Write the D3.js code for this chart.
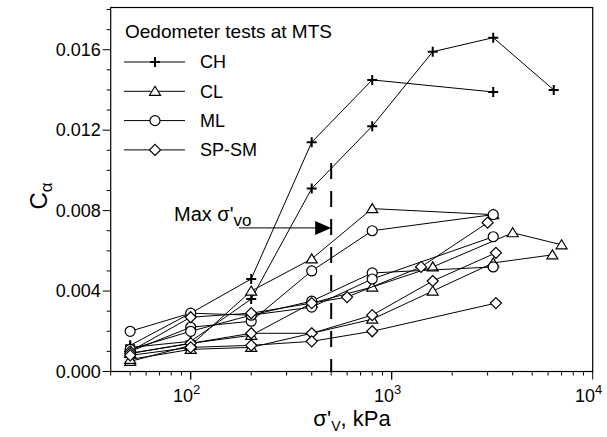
<!DOCTYPE html>
<html>
<head>
<meta charset="utf-8">
<script src="https://cdn.jsdelivr.net/npm/d3@7"></script>
<style>
  body { margin: 0; background: #fff; }
  text { font-family: Arial, "Liberation Sans", sans-serif; fill: #000; }
</style>
</head>
<body>
<svg id="chart" width="607" height="437"></svg>
<script>
// soil types and their marker symbol
var soilTypes = ["CH", "CL", "ML", "SP-SM"];
var symbols = {"CH": "plus", "CL": "triangle", "ML": "circle", "SP-SM": "diamond"};

// one array per test: [sigma'v kPa, C_alpha]
var ch1 = [[50, 0.0013], [100, 0.0029], [200, 0.0046], [400, 0.0114], [800, 0.0145], [3200, 0.0139]];
var ch2 = [[50, 0.0012], [100, 0.0015], [200, 0.0036], [400, 0.0091], [800, 0.0122], [1600, 0.0159], [3200, 0.0166], [6400, 0.0140]];
var cl1 = [[50, 0.0005], [100, 0.0013], [200, 0.0040], [400, 0.0056], [800, 0.0081], [3200, 0.0078]];
var cl2 = [[50, 0.0009], [100, 0.0014], [200, 0.0018], [400, 0.0034], [800, 0.0042], [1600, 0.0052], [4000, 0.0069], [7000, 0.0063]];
var cl3 = [[50, 0.0006], [100, 0.0011], [200, 0.0012], [800, 0.0026], [1600, 0.0040], [3200, 0.0054], [6300, 0.0058]];
var ml1 = [[50, 0.0020], [100, 0.0029], [200, 0.0028], [400, 0.0035], [800, 0.0049], [3200, 0.0052]];
var ml2 = [[50, 0.0010], [100, 0.0022], [200, 0.0025], [400, 0.0050], [800, 0.0070], [3200, 0.0078]];
var ml3 = [[50, 0.0011], [100, 0.0020], [200, 0.0028], [400, 0.0032], [800, 0.0046], [3200, 0.0067]];
var sp1 = [[50, 0.0010], [100, 0.0027], [200, 0.0029], [400, 0.0034], [600, 0.0037], [1400, 0.0052], [3000, 0.0074]];
var sp2 = [[50, 0.0009], [100, 0.0014], [200, 0.0019], [400, 0.0019], [800, 0.0028], [1600, 0.0045], [3300, 0.0059]];
var sp3 = [[50, 0.0008], [100, 0.0012], [200, 0.0013], [400, 0.0015], [800, 0.0020], [3300, 0.0034]];

var tests = [
    {type: "CH", pts: ch1}, {type: "CH", pts: ch2},
    {type: "CL", pts: cl1}, {type: "CL", pts: cl2}, {type: "CL", pts: cl3},
    {type: "ML", pts: ml1}, {type: "ML", pts: ml2}, {type: "ML", pts: ml3},
    {type: "SP-SM", pts: sp1}, {type: "SP-SM", pts: sp2}, {type: "SP-SM", pts: sp3}
];

var yTicks = [0, 0.004, 0.008, 0.012, 0.016];
var xTicks = [100, 1000, 10000];
var maxStress = 500;      // max sigma'vo, dashed line
var arrowLevel = 0.00714; // height of the arrow

function drawChart() {
    var svg = d3.select("#chart");
    var pLeft = 110.7, pRight = 592.7, pTop = 7.5, pBottom = 371.5;

    var x = d3.scaleLog().domain([40, 10000]).range([pLeft, pRight]);
    var y = d3.scaleLinear().domain([0, 0.0181]).range([pBottom, pTop]);

    // frame
    svg.append("rect")
        .attr("x", pLeft).attr("y", pTop)
        .attr("width", pRight - pLeft).attr("height", pBottom - pTop)
        .attr("fill", "none").attr("stroke", "#000").attr("stroke-width", 1.2);

    // y axis: minor ticks every 0.001
    var yMinor = d3.range(0, 0.0181, 0.001);
    svg.append("g").selectAll("line")
        .data(yMinor).enter().append("line")
        .attr("x1", pLeft).attr("x2", function (d) {
            return Math.abs(d / 0.004 - Math.round(d / 0.004)) < 1e-6 ? pLeft - 8 : pLeft - 4;
        })
        .attr("y1", function (d) { return y(d); })
        .attr("y2", function (d) { return y(d); })
        .attr("stroke", "#000");

    svg.append("g").selectAll("text")
        .data(yTicks).enter().append("text")
        .attr("x", pLeft - 10)
        .attr("y", function (d) { return y(d); })
        .attr("dy", "0.35em")
        .attr("text-anchor", "end")
        .attr("font-size", 18)
        .text(function (d) { return d3.format(".3f")(d); });

    // x axis: log ticks
    var xMinor = [];
    [10, 100, 1000].forEach(function (dec) {
        for (var m = 1; m <= 10; m++) {
            var v = m * dec;
            if (v >= 40 && v <= 10000) xMinor.push(v);
        }
    });
    svg.append("g").selectAll("line")
        .data(xMinor).enter().append("line")
        .attr("x1", function (d) { return x(d); })
        .attr("x2", function (d) { return x(d); })
        .attr("y1", pBottom)
        .attr("y2", function (d) { return xTicks.indexOf(d) >= 0 ? pBottom + 8 : pBottom + 4; })
        .attr("stroke", "#000");

    var xl = svg.append("g").selectAll("text")
        .data(xTicks).enter().append("text")
        .attr("x", function (d) { return x(d) - 4; })
        .attr("y", 402)
        .attr("text-anchor", "middle")
        .attr("font-size", 18);
    xl.append("tspan").text("10");
    xl.append("tspan")
        .attr("dy", -8).attr("font-size", 13)
        .text(function (d) { return Math.round(Math.log10(d)); });

    // axis titles
    var yt = svg.append("text")
        .attr("transform", "translate(47,196) rotate(-90)")
        .attr("text-anchor", "middle")
        .attr("font-size", 24);
    yt.append("tspan").text("C");
    yt.append("tspan").attr("dy", 5).attr("font-size", 17).text("α");

    var xt = svg.append("text")
        .attr("x", 352).attr("y", 426)
        .attr("text-anchor", "middle")
        .attr("font-size", 22);
    xt.append("tspan").text("σ'");
    xt.append("tspan").attr("dy", 5).attr("font-size", 14).text("V");
    xt.append("tspan").attr("dy", -5).text(", kPa");

    // marker drawing
    function marker(g, type) {
        if (type === "plus") {
            g.append("path").attr("d", "M-5,0H5M0,-5V5")
                .attr("stroke", "#000").attr("stroke-width", 2).attr("fill", "none");
        } else if (type === "triangle") {
            g.append("path").attr("d", "M0,-5L5.5,4L-5.5,4Z")
                .attr("stroke", "#000").attr("stroke-width", 1.2).attr("fill", "#fff");
        } else if (type === "circle") {
            g.append("circle").attr("r", 5)
                .attr("stroke", "#000").attr("stroke-width", 1.2).attr("fill", "#fff");
        } else {
            g.append("path").attr("d", "M0,-5.5L5.5,0L0,5.5L-5.5,0Z")
                .attr("stroke", "#000").attr("stroke-width", 1.2).attr("fill", "#fff");
        }
    }

    var line = d3.line()
        .x(function (d) { return x(d[0]); })
        .y(function (d) { return y(d[1]); });

    var series = svg.append("g").selectAll("g")
        .data(tests).enter().append("g");

    series.append("path")
        .attr("d", function (d) { return line(d.pts); })
        .attr("fill", "none").attr("stroke", "#000").attr("stroke-width", 1);

    series.each(function (d) {
        var g = d3.select(this);
        d.pts.forEach(function (p) {
            var m = g.append("g").attr("transform", "translate(" + x(p[0]) + "," + y(p[1]) + ")");
            marker(m, symbols[d.type]);
        });
    });

    // dashed max sigma'vo line
    svg.append("line")
        .attr("x1", x(maxStress)).attr("x2", x(maxStress))
        .attr("y1", 163).attr("y2", pBottom)
        .attr("stroke", "#000").attr("stroke-width", 2)
        .attr("stroke-dasharray", "16,12");

    // arrow
    var ay = y(arrowLevel);
    svg.append("line")
        .attr("x1", 239).attr("x2", x(maxStress) - 14)
        .attr("y1", ay).attr("y2", ay)
        .attr("stroke", "#000").attr("stroke-width", 1);
    svg.append("path")
        .attr("d", "M" + (x(maxStress) - 16) + "," + (ay - 7) + "L" + x(maxStress) + "," + ay + "L" + (x(maxStress) - 16) + "," + (ay + 7) + "Z")
        .attr("fill", "#000");

    var mt = svg.append("text")
        .attr("x", 174).attr("y", 221)
        .attr("font-size", 20);
    mt.append("tspan").text("Max σ'");
    mt.append("tspan").attr("dy", 5).attr("font-size", 17).text("vo");

    // legend
    svg.append("text")
        .attr("x", 125).attr("y", 38)
        .attr("font-size", 19)
        .text("Oedometer tests at MTS");

    var leg = svg.append("g").selectAll("g")
        .data(soilTypes).enter().append("g")
        .attr("transform", function (d, i) { return "translate(0," + (62 + i * 29.3) + ")"; });

    leg.append("line")
        .attr("x1", 124).attr("x2", 185)
        .attr("stroke", "#000").attr("stroke-width", 1);
    leg.each(function (d) {
        var m = d3.select(this).append("g").attr("transform", "translate(155,0)");
        marker(m, symbols[d]);
    });
    leg.append("text")
        .attr("x", 200).attr("dy", "0.35em")
        .attr("font-size", 18)
        .text(function (d) { return d; });
}

drawChart();
</script>
</body>
</html>
